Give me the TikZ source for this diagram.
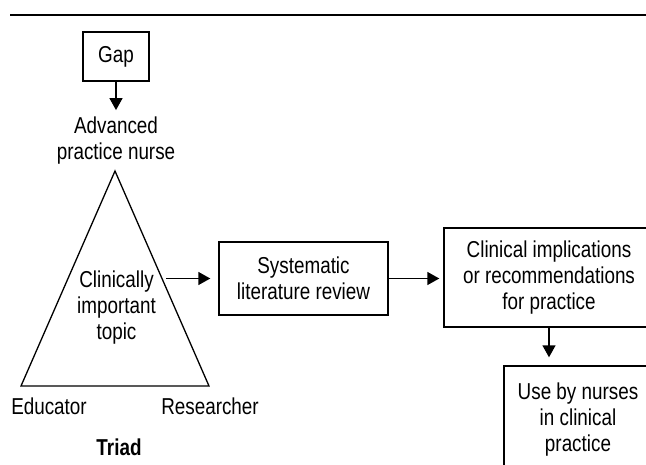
\documentclass[tikz,border=0pt]{standalone}
\usepackage{fontspec}
\setmainfont[FakeStretch=0.82]{Liberation Sans}
\usetikzlibrary{arrows.meta}
\tikzset{
  lbl/.style={inner sep=0pt, align=center, font=\fontsize{23}{26}\selectfont},
  boxnode/.style={draw, line width=1.4pt, inner sep=0pt, align=center, font=\fontsize{23}{26}\selectfont},
  arr/.style={line width=1.4pt, -{Triangle[length=12pt,width=13pt]}},
  edge/.style={line width=1.3pt}
}
\begin{document}
\begin{tikzpicture}[x=1pt,y=-1pt]
\useasboundingbox (0,0) rectangle (646,464);
\clip (0,0) rectangle (646,464);
% top rule
\coordinate (r1) at (10,15);
\coordinate (r2) at (646,15);
\draw[line width=2.8pt] (r1) -- (r2);
% Gap
\node[boxnode, minimum width=66pt, minimum height=49pt] (gap) at (116,56.5) {Gap};
\node[lbl] (apn) at (116,141) {Advanced\\practice nurse};
\draw[arr, shorten >=7pt] (gap.south) -- (apn.north);
% triangle
\coordinate (ta) at (115,171);
\coordinate (tr) at (209,386);
\coordinate (tl) at (21,386);
\draw[edge, line join=miter] (ta) -- (tr) -- (tl) -- cycle;
\node[lbl] (topic) at (116.5,307.5) {Clinically\\important\\topic};
\node[lbl] (edu) at (49,406) {Educator};
\node[lbl] (res) at (210,406) {Researcher};
\node[lbl, font=\fontsize{23}{26}\selectfont\bfseries] (triad) at (119,447) {Triad};
% boxes
\node[boxnode, minimum width=169pt, minimum height=73pt] (sys) at (303.5,278.5) {Systematic\\literature review};
\node[boxnode, minimum width=210pt, minimum height=99pt] (clin) at (549,277.5) {Clinical implications\\or recommendations\\for practice};
\node[boxnode, minimum width=148pt, minimum height=108pt] (use) at (578,420) {Use by nurses\\in clinical\\practice};
% connectors
\draw[arr, shorten <=10pt, shorten >=8pt] (topic.east |- sys.west) -- (sys.west);
\draw[arr, shorten >=4pt] (sys.east) -- (sys.east -| clin.west);
\draw[arr, shorten >=8pt] (clin.south) -- (clin.south |- use.north);
\end{tikzpicture}
\end{document}
